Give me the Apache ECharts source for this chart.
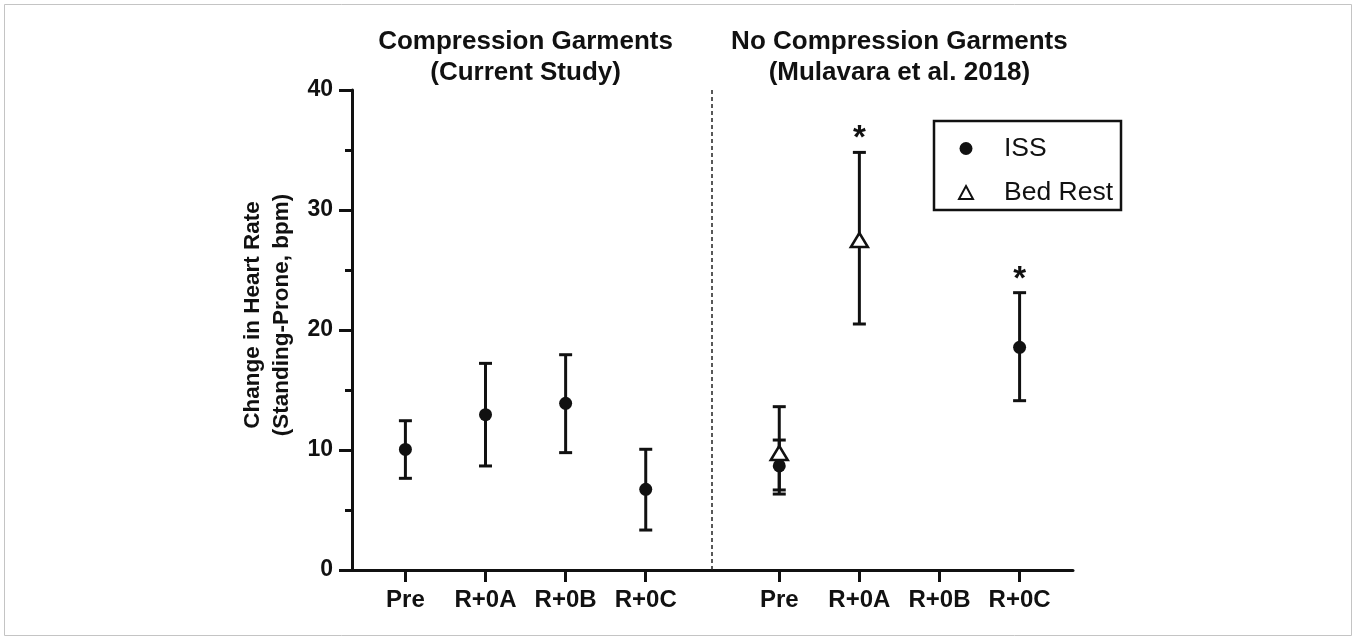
<!DOCTYPE html>
<html>
<head>
<meta charset="utf-8">
<script src="https://cdn.jsdelivr.net/npm/echarts@6/dist/echarts.min.js"></script>
<style>
  html, body { margin: 0; padding: 0; background: #fff; }
  #chart { width: 1356px; height: 639px; }
</style>
</head>
<body>
<div id="chart"></div>
<script>
var FONT = '"Liberation Sans", Arial, Helvetica, sans-serif';
var INK = '#111';

// categories and panel titles
var categories = ['Pre', 'R+0A', 'R+0B', 'R+0C'];
var groupTitles = [
    'Compression Garments\n(Current Study)',
    'No Compression Garments\n(Mulavara et al. 2018)'
];
var yTicks = [0, 10, 20, 30, 40];

// current study (ISS crew, compression garments): mean, lower / upper end of error bar
var currentMean = [10.05, 12.94, 13.89, 6.72];
var currentLow = [7.64, 8.67, 9.78, 3.33];
var currentHigh = [12.44, 17.22, 17.94, 10.06];

// Mulavara et al. 2018, ISS crew
var issMean = [8.67, null, null, 18.56];
var issLow = [6.33, null, null, 14.11];
var issHigh = [13.61, null, null, 23.11];
var issSig = ['', '', '', '*'];

// Mulavara et al. 2018, bed rest
var bedMean = [9.75, 27.5, null, null];
var bedLow = [6.67, 20.5, null, null];
var bedHigh = [10.83, 34.8, null, null];
var bedSig = ['', '*', '', ''];

// two panels on one value axis, second one shifted right
var groupOffset = 14 / 3;
function xOf(group, i) { return i + group * groupOffset; }

var xTicks = [];
for (var g = 0; g < 2; g++) {
    for (var k = 0; k < categories.length; k++) xTicks.push(xOf(g, k));
}
function labelOf(v) {
    for (var j = 0; j < xTicks.length; j++) {
        if (Math.abs(xTicks[j] - v) < 1e-3) return categories[j % categories.length];
    }
    return '';
}
var dividerX = (xOf(0, categories.length - 1) + xOf(1, 0)) / 2;

function points(group, mean, low, high, sig) {
    var out = [];
    for (var i = 0; i < mean.length; i++) {
        if (mean[i] == null) continue;
        out.push([xOf(group, i), mean[i], low[i], high[i], sig ? sig[i] : '']);
    }
    return out;
}
var issPts = points(0, currentMean, currentLow, currentHigh, null)
    .concat(points(1, issMean, issLow, issHigh, issSig));
var bedPts = points(1, bedMean, bedLow, bedHigh, bedSig);

function errorBars(pts) {
    return function (params, api) {
        var x = api.value(0);
        var top = api.coord([x, api.value(3)]);
        var bot = api.coord([x, api.value(2)]);
        var hw = 6.5;
        var st = { stroke: INK, lineWidth: 3, fill: null };
        var kids = [
            { type: 'line', shape: { x1: top[0], y1: top[1], x2: bot[0], y2: bot[1] }, style: st },
            { type: 'line', shape: { x1: top[0] - hw, y1: top[1], x2: top[0] + hw, y2: top[1] }, style: st },
            { type: 'line', shape: { x1: bot[0] - hw, y1: bot[1], x2: bot[0] + hw, y2: bot[1] }, style: st }
        ];
        var sig = pts[params.dataIndex][4];
        if (sig) {
            kids.push({
                type: 'text',
                style: {
                    text: sig, x: top[0], y: top[1] - 13,
                    align: 'center', verticalAlign: 'middle',
                    font: 'bold 33px ' + FONT, fill: INK
                }
            });
        }
        return { type: 'group', children: kids };
    };
}

var chart = echarts.init(document.getElementById('chart'));

chart.setOption({
    animation: false,
    backgroundColor: '#fff',
    grid: { left: 352, right: 283, top: 90, bottom: 69 },
    legend: {
        orient: 'vertical',
        left: 934,
        top: 121,
        data: [{ name: 'ISS', icon: 'circle' }, { name: 'Bed Rest', icon: 'triangle' }],
        itemWidth: 14,
        itemHeight: 13,
        itemGap: 17,
        padding: [14, 8, 4, 24],
        borderColor: INK,
        borderWidth: 2.5,
        selectedMode: false,
        textStyle: { fontFamily: FONT, fontSize: 26.5, color: INK, lineHeight: 26, padding: [0, 0, 0, 26] }
    },
    xAxis: {
        type: 'value',
        min: -2 / 3,
        max: 25 / 3,
        splitLine: { show: false },
        axisLine: { lineStyle: { color: INK, width: 3 } },
        axisTick: { customValues: xTicks, length: 12, lineStyle: { color: INK, width: 3 } },
        axisLabel: {
            customValues: xTicks,
            formatter: labelOf,
            margin: 18,
            color: INK,
            fontFamily: FONT,
            fontWeight: 'bold',
            fontSize: 24
        }
    },
    yAxis: {
        type: 'value',
        min: yTicks[0],
        max: yTicks[yTicks.length - 1],
        interval: yTicks[1] - yTicks[0],
        splitLine: { show: false },
        axisLine: { show: true, onZero: false, lineStyle: { color: INK, width: 3 } },
        axisTick: { show: true, length: 13, lineStyle: { color: INK, width: 3 } },
        minorTick: { show: true, splitNumber: 2, length: 7, lineStyle: { color: INK, width: 3 } },
        axisLabel: { margin: 19, color: INK, fontFamily: FONT, fontWeight: 'bold', fontSize: 23 },
        name: 'Change in Heart Rate\n(Standing-Prone, bpm)',
        nameLocation: 'middle',
        nameRotate: 90,
        nameGap: 49,
        nameTextStyle: {
            color: INK, fontFamily: FONT, fontWeight: 'bold', fontSize: 22.5, lineHeight: 29,
            padding: [0, 0, 0, 30]
        }
    },
    series: [
        {
            name: 'bed-err',
            type: 'custom',
            renderItem: errorBars(bedPts),
            data: bedPts.map(function (p) { return p.slice(0, 4); }),
            encode: { x: 0, y: [1, 2, 3] },
            z: 2,
            silent: true
        },
        {
            name: 'iss-err',
            type: 'custom',
            renderItem: errorBars(issPts),
            data: issPts.map(function (p) { return p.slice(0, 4); }),
            encode: { x: 0, y: [1, 2, 3] },
            z: 2,
            silent: true,
            markLine: {
                silent: true,
                symbol: 'none',
                label: { show: false },
                lineStyle: { color: '#222', width: 1.5, type: [4, 3] },
                data: [{ xAxis: dividerX }]
            }
        },
        {
            name: 'Bed Rest',
            type: 'scatter',
            symbol: 'triangle',
            symbolSize: [17, 14],
            itemStyle: { color: '#fff', borderColor: INK, borderWidth: 2.5, opacity: 1 },
            data: bedPts.map(function (p) { return [p[0], p[1]]; }),
            z: 3,
            silent: true
        },
        {
            name: 'ISS',
            type: 'scatter',
            symbol: 'circle',
            symbolSize: 13,
            itemStyle: { color: INK, opacity: 1 },
            data: issPts.map(function (p) { return [p[0], p[1]]; }),
            z: 4,
            silent: true
        }
    ]
});

// panel titles centred over each group
var titleGraphics = groupTitles.map(function (t, g) {
    var cx = (xOf(g, 0) + xOf(g, categories.length - 1)) / 2;
    var px = chart.convertToPixel({ xAxisIndex: 0, yAxisIndex: 0 }, [cx, 0]);
    return {
        type: 'text',
        x: px[0],
        y: 57,
        style: {
            text: t, align: 'center', verticalAlign: 'middle',
            font: 'bold 26px ' + FONT, lineHeight: 31, fill: INK
        }
    };
});
titleGraphics.push({
    type: 'rect',
    shape: { x: 4.5, y: 4.5, width: 1347, height: 631 },
    style: { fill: null, stroke: '#c4c4c4', lineWidth: 1 },
    silent: true
});
chart.setOption({ graphic: titleGraphics });
</script>
</body>
</html>
